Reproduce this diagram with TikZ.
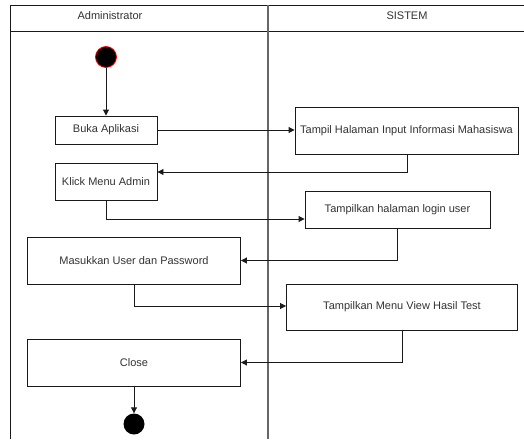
\documentclass[tikz,border=0pt]{standalone}
\usepackage{fontspec}
\setmainfont{Liberation Sans}
\usetikzlibrary{arrows.meta}
\definecolor{ln}{HTML}{1A1A1A}
\definecolor{tx}{HTML}{333333}
\tikzset{
  act/.style={draw=ln, line width=0.9pt, fill=white, inner sep=0pt, font=\fontsize{11}{13}\selectfont, text=tx},
  flow/.style={draw=ln, line width=0.9pt, -{Triangle[length=6pt,width=6pt]}},
  lane/.style={draw=ln, line width=0.9pt},
}
\begin{document}
\begin{tikzpicture}[x=1pt,y=-1pt]
\useasboundingbox (0,0) rectangle (524,439);
% pool
\draw[lane] (524,5) -- (10,5) -- (10,439);
\draw[lane] (10,31) -- (524,31);
\draw[draw=gray!80!black, line width=1.4pt] (268,5) -- (268,439);
\node[font=\fontsize{11}{13}\selectfont, text=tx] (h1) at (110,16) {Administrator};
\node[font=\fontsize{11}{13}\selectfont, text=tx] (h2) at (407,16) {SISTEM};
% start
\node[circle, fill=black, draw=red, line width=0.8pt, minimum size=21pt, inner sep=0pt] (start) at (106,57) {};
% activities
\node[act, minimum width=102pt, minimum height=28pt] (buka) at (106,130) {Buka Aplikasi};
\node[act, minimum width=223pt, minimum height=47pt] (tampil) at (406.5,130.5) {Tampil Halaman Input Informasi Mahasiswa};
\node[act, minimum width=102pt, minimum height=37pt] (klick) at (106,181.5) {Klick Menu Admin};
\node[act, minimum width=185pt, minimum height=37pt] (login) at (397.5,209.5) {Tampilkan halaman login user};
\node[act, minimum width=213pt, minimum height=47pt] (masuk) at (134,260.5) {Masukkan User dan Password};
\node[act, minimum width=231pt, minimum height=46pt] (view) at (402,307) {Tampilkan Menu View Hasil Test};
\node[act, minimum width=213pt, minimum height=47pt] (close) at (134,362.5) {Close};
% end
\node[circle, fill=black, minimum size=21pt, inner sep=0pt] (end) at (134,424) {};
% flows
\draw[flow] (start) -- (buka);
\draw[flow] (buka) -- (tampil.west |- buka);
\draw[flow] (tampil.south -| 407,0) |- (klick.east |- 0,172);
\draw[flow] (klick) |- (login.west |- 0,219);
\draw[flow] (login.south -| 397.5,0) |- (masuk);
\draw[flow] (masuk) |- (view.west |- 0,306);
\draw[flow] (view.south) |- (close);
\draw[flow] (close) -- (end);
\end{tikzpicture}
\end{document}
